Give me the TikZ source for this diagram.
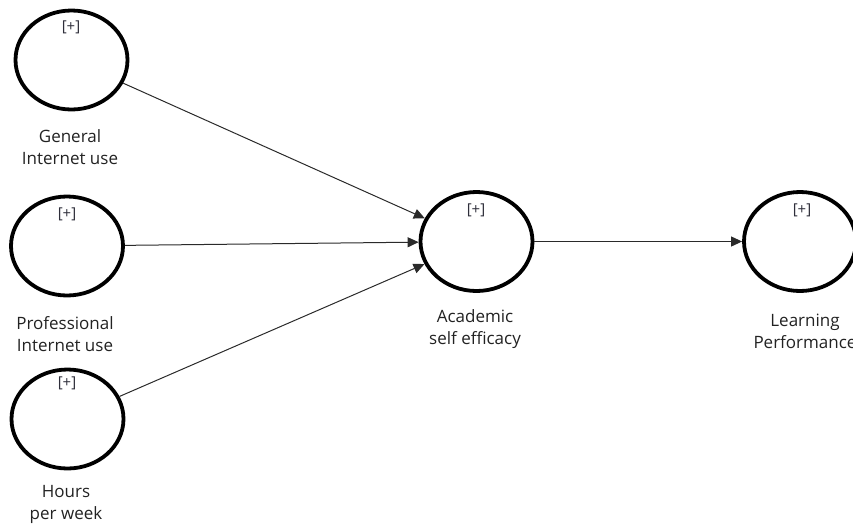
\documentclass[tikz,border=0pt]{standalone}
\usepackage{fontspec}
\setmainfont{Open Sans}
\usetikzlibrary{shapes.geometric,arrows.meta}
\definecolor{txt}{HTML}{222222}
\definecolor{plus}{HTML}{2E2E3A}
\definecolor{edge}{HTML}{2A2A2A}
\begin{document}
\begin{tikzpicture}[x=1pt,y=-1pt,
  lv/.style={draw=black, line width=3.8pt, ellipse, inner sep=0pt, minimum width=112pt, minimum height=99pt},
  lab/.style={align=center, text=txt, font=\fontsize{17}{22}\selectfont, inner sep=0pt},
  pl/.style={text=plus, font=\fontsize{15}{17}\selectfont, inner sep=0pt},
  conn/.style={draw=edge, line width=1pt, -{Triangle[length=11pt,width=10pt]}}]
\useasboundingbox (0,0) rectangle (853,528);
\node[lv] (gen) at (71.5,60) {};
\node[lv] (prof) at (67,246) {};
\node[lv] (hours) at (67.5,419) {};
\node[lv] (ase) at (476.5,241.5) {};
\node[lv] (lp) at (800,241.5) {};
\node[pl] (pgen) at (71,27.5) {[+]};
\node[pl] (pprof) at (67,214) {[+]};
\node[pl] (phours) at (67,383.5) {[+]};
\node[pl] (pase) at (476,210) {[+]};
\node[pl] (plp) at (802,210) {[+]};
\node[lab] (lgen) at (70,147.5) {General\\Internet use};
\node[lab] (lprof) at (65,334) {Professional\\Internet use};
\node[lab] (lhours) at (66,504) {Hours\\per week};
\node[lab] (lase) at (475,329) {Academic\\self efficacy};
\node[lab] (llp) at (805,331) {Learning\\Performance};
\draw[conn] (gen) -- (ase);
\draw[conn] (prof) -- (ase);
\draw[conn] (hours) -- (ase);
\draw[conn] (ase) -- (lp);
\end{tikzpicture}
\end{document}
